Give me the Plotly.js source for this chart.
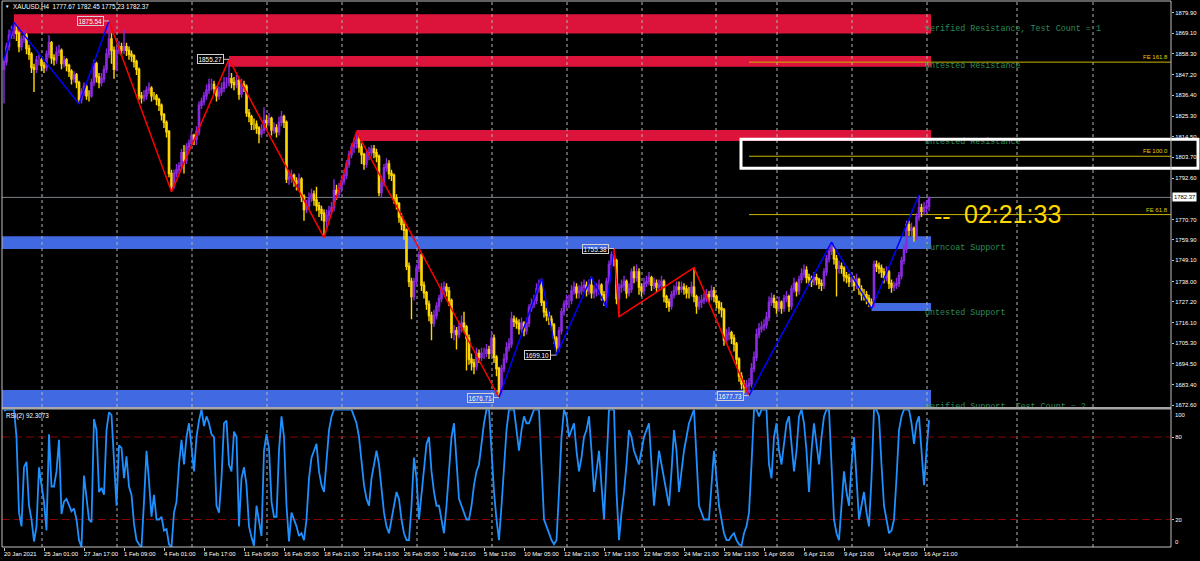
<!DOCTYPE html>
<html><head><meta charset="utf-8">
<script src="https://cdn.plot.ly/plotly-3.0.1.min.js"></script>
<style>html,body{margin:0;padding:0;background:#000;}#chart{width:1200px;height:561px;}</style>
</head><body><div id="chart"></div>
<script>
// ---------------- data ----------------
const symbolHeader = "XAUUSD,H4  1777.67 1782.45 1775.23 1782.37";
const closes = [1854,1862,1868,1870,1870,1869,1862,1866,1868,1861,
1858,1851,1850,1855,1855,1852,1851,1858,1864,1856,
1855,1859,1860,1853,1855,1852,1849,1845,1847,1843,
1834,1838,1841,1836,1836,1843,1853,1846,1843,1845,
1850,1858,1866,1860,1850,1860,1862,1860,1862,1860,
1858,1857,1854,1850,1836,1835,1836,1839,1840,1836,
1836,1834,1831,1826,1822,1817,1795,1788,1795,1797,
1799,1806,1802,1809,1811,1815,1813,1817,1831,1833,
1836,1839,1842,1842,1840,1836,1838,1840,1843,1843,
1845,1843,1842,1844,1837,1842,1841,1827,1825,1821,
1821,1819,1816,1818,1823,1822,1824,1818,1819,1817,
1822,1825,1822,1792,1793,1794,1791,1790,1792,1783,
1776,1778,1782,1784,1781,1778,1776,1774,1770,1773,
1775,1777,1786,1784,1787,1791,1794,1800,1805,1809,
1811,1813,1809,1805,1800,1805,1806,1808,1806,1804,
1785,1790,1798,1800,1795,1794,1782,1779,1772,1768,
1765,1746,1738,1730,1738,1745,1752,1736,1732,1726,
1720,1716,1720,1725,1729,1734,1735,1733,1728,1711,
1712,1710,1714,1716,1714,1708,1697,1695,1693,1700,
1698,1700,1700,1702,1700,1708,1698,1692,1680,1692,
1697,1703,1705,1718,1717,1716,1713,1716,1712,1716,
1724,1726,1728,1734,1736,1727,1722,1720,1718,1715,
1708,1703,1712,1722,1726,1728,1728,1733,1735,1732,
1733,1735,1736,1733,1736,1732,1733,1734,1736,1731,
1728,1738,1747,1752,1749,1729,1735,1736,1738,1732,
1734,1743,1740,1743,1735,1733,1737,1738,1740,1736,
1737,1735,1736,1738,1730,1727,1725,1731,1733,1735,
1734,1735,1734,1732,1732,1735,1730,1725,1727,1728,
1729,1731,1730,1733,1730,1727,1724,1723,1707,1710,
1711,1708,1705,1697,1688,1684,1682,1683,1684,1692,
1698,1710,1713,1714,1715,1719,1727,1729,1727,1724,
1727,1724,1729,1730,1725,1734,1737,1733,1739,1742,
1744,1740,1739,1738,1740,1739,1737,1736,1743,1750,
1754,1756,1750,1745,1746,1745,1741,1740,1738,1739,
1736,1739,1734,1731,1731,1729,1727,1725,1747,1746,
1745,1743,1740,1743,1737,1735,1736,1737,1741,1749,
1755,1768,1765,1766,1762,1772,1777,1775,1777,1777.67,
1782.37];
const opens = [1850,1854,1862,1868,1870,1870,1869,1862,1866,1868,
1861,1858,1851,1850,1855,1855,1852,1851,1858,1864,
1856,1855,1859,1860,1853,1855,1852,1849,1845,1847,
1843,1834,1838,1841,1836,1836,1843,1853,1846,1843,
1845,1850,1858,1866,1860,1850,1860,1862,1860,1862,
1860,1858,1857,1854,1850,1836,1835,1836,1839,1840,
1836,1836,1834,1831,1826,1822,1817,1795,1788,1795,
1797,1799,1806,1802,1809,1811,1815,1813,1817,1831,
1833,1836,1839,1842,1842,1840,1836,1838,1840,1843,
1843,1845,1843,1842,1844,1837,1842,1841,1827,1825,
1821,1821,1819,1816,1818,1823,1822,1824,1818,1819,
1817,1822,1825,1822,1792,1793,1794,1791,1790,1792,
1783,1776,1778,1782,1784,1781,1778,1776,1774,1770,
1773,1775,1777,1786,1784,1787,1791,1794,1800,1805,
1809,1811,1813,1809,1805,1800,1805,1806,1808,1806,
1804,1785,1790,1798,1800,1795,1794,1782,1779,1772,
1768,1765,1746,1738,1730,1738,1745,1752,1736,1732,
1726,1720,1716,1720,1725,1729,1734,1735,1733,1728,
1711,1712,1710,1714,1716,1714,1708,1697,1695,1693,
1700,1698,1700,1700,1702,1700,1708,1698,1692,1680,
1692,1697,1703,1705,1718,1717,1716,1713,1716,1712,
1716,1724,1726,1728,1734,1736,1727,1722,1720,1718,
1715,1708,1703,1712,1722,1726,1728,1728,1733,1735,
1732,1733,1735,1736,1733,1736,1732,1733,1734,1736,
1731,1728,1738,1747,1752,1749,1729,1735,1736,1738,
1732,1734,1743,1740,1743,1735,1733,1737,1738,1740,
1736,1737,1735,1736,1738,1730,1727,1725,1731,1733,
1735,1734,1735,1734,1732,1732,1735,1730,1725,1727,
1728,1729,1731,1730,1733,1730,1727,1724,1723,1707,
1710,1711,1708,1705,1697,1688,1684,1682,1683,1684,
1692,1698,1710,1713,1714,1715,1719,1727,1729,1727,
1724,1727,1724,1729,1730,1725,1734,1737,1733,1739,
1742,1744,1740,1739,1738,1740,1739,1737,1736,1743,
1750,1754,1756,1750,1745,1746,1745,1741,1740,1738,
1739,1736,1739,1734,1731,1731,1729,1727,1725,1747,
1746,1745,1743,1740,1743,1737,1735,1736,1737,1741,
1749,1755,1768,1765,1766,1762,1772,1777,1775,1777,
1777.67];
const highs = [1856,1864,1871,1873,1874.8,1873,1870,1868,1871,1869,
1863,1859,1853,1857,1858,1856,1854,1860,1868,1865,
1858,1862,1863,1861,1857,1856,1853,1850,1849,1848,
1844,1840,1843,1842,1839,1845,1855,1854,1848,1848,
1852,1861,1875.54,1869,1862,1862,1865,1864,1871,1864,
1862,1860,1858,1855,1851,1838,1839,1841,1843,1841,
1838,1837,1835,1832,1827,1823,1818,1797,1797,1800,
1801,1808,1810,1811,1813,1818,1816,1820,1833,1835,
1838,1842,1845,1845,1844,1841,1841,1843,1846,1846,
1855.27,1848,1846,1847,1845,1845,1844,1842,1829,1826,
1824,1823,1820,1821,1830,1826,1827,1825,1822,1821,
1825,1828,1826,1823,1796,1797,1795,1793,1795,1793,
1784,1781,1785,1787,1786,1788,1780,1778,1776,1776,
1778,1780,1792,1789,1790,1794,1797,1802,1807,1811,
1814,1817.1,1815,1811,1806,1807,1809,1810,1810,1808,
1805,1794,1800,1803,1802,1797,1795,1784,1780,1774,
1770,1766,1748,1740,1740,1747,1754,1753,1738,1733,
1728,1722,1723,1727,1731,1737,1738,1737,1735,1729,
1715,1714,1717,1720,1722,1715,1710,1700,1697,1703,
1702,1703,1703,1705,1704,1712,1710,1699,1693,1694,
1700,1706,1708,1722,1720,1719,1718,1719,1717,1719,
1726,1729,1731,1737,1739,1739.7,1728,1724,1722,1720,
1716,1709,1714,1724,1728,1731,1731,1736,1738,1737,
1736,1738,1739,1738,1739,1740.5,1736,1737,1739,1737,
1733,1740,1749,1754,1755.38,1750,1737,1739,1741,1739,
1737,1745,1746,1747,1745,1737,1740,1741,1743,1741,
1740,1739,1739,1741,1739,1731,1729,1733,1736,1738,
1738,1738,1737,1736,1735,1738,1745.3,1731,1730,1731,
1732,1734,1733,1736,1735,1731,1728,1727,1724,1713,
1714,1712,1710,1706,1698,1690,1686,1686,1687,1695,
1701,1713,1716,1717,1718,1722,1730,1732,1731,1728,
1730,1728,1731,1733,1731,1736,1740,1738,1741,1745,
1747,1746,1742,1741,1743,1742,1740,1739,1745,1752,
1757,1758.7,1757,1752,1749,1748,1746,1743,1742,1742,
1741,1742,1740,1736,1734,1733,1731,1729,1749,1749,
1748,1747,1745,1746,1744,1739,1738,1740,1743,1751,
1758,1770,1770,1769,1767,1774,1783.6,1779,1780,1781,
1782.45];
const lows = [1832,1852,1860,1866,1866,1865,1859,1860,1864,1858,
1855,1848,1838,1848,1852,1849,1848,1849,1856,1853,
1852,1853,1857,1850,1851,1849,1846,1842,1843,1840,
1831.7,1832,1836,1834,1833,1835,1841,1843,1840,1841,
1843,1848,1856,1853,1845,1849,1858,1857,1858,1857,
1855,1854,1851,1847,1834,1832,1833,1834,1837,1833,
1834,1831,1828,1823,1819,1814,1793,1785.4,1787,1793,
1795,1797,1795,1800,1807,1809,1810,1810,1815,1829,
1831,1834,1837,1839,1837,1833,1834,1836,1838,1840,
1841,1840,1839,1840,1834,1835,1838,1825,1822,1818,
1818,1816,1811,1814,1816,1819,1820,1815,1816,1814,
1815,1820,1819,1790,1789,1790,1788,1786,1787,1780,
1770,1774,1776,1780,1778,1775,1772,1770,1761.1,1766,
1770,1773,1775,1781,1782,1785,1789,1792,1798,1803,
1806,1808,1806,1800,1797,1798,1802,1804,1803,1801,
1783,1782,1788,1796,1792,1791,1779,1776,1769,1765,
1760,1744,1735,1718,1728,1736,1743,1733,1729,1723,
1717,1707,1714,1718,1722,1727,1731,1730,1725,1708,
1707,1702,1708,1711,1711,1691,1694,1691,1689,1691,
1695,1696,1697,1698,1697,1698,1695,1688,1676.71,1678,
1690,1695,1701,1703,1714,1713,1710,1711,1709,1710,
1714,1722,1724,1726,1732,1725,1719,1717,1715,1712,
1705,1699.1,1701,1710,1720,1724,1724,1726,1731,1729,
1729,1731,1732,1730,1731,1729,1729,1730,1731,1728,
1725,1724.1,1736,1745,1746,1726,1719.4,1732,1733,1729,
1730,1732,1737,1738,1731,1730,1731,1735,1736,1733,
1734,1732,1733,1734,1727,1724,1722,1723,1729,1731,
1731,1732,1731,1729,1729,1730,1727,1721,1723,1724,
1726,1727,1727,1728,1727,1724,1721,1719,1704,1705,
1707,1705,1701,1694,1685,1681,1679,1679,1677.73,1682,
1690,1696,1708,1711,1712,1713,1717,1725,1724,1721,
1722,1721,1722,1727,1722,1723,1732,1730,1731,1737,
1740,1737,1736,1735,1736,1736,1734,1733,1734,1741,
1748,1752,1747,1730,1742,1742,1738,1737,1735,1736,
1733,1734,1731,1728,1728,1726,1724.5,1723.6,1724,1743,
1742,1740,1737,1738,1734,1732,1733,1734,1735,1739,
1747,1753,1762,1762,1759,1760,1770,1772,1773,1774,
1775.23];
const rsi = [99,100,100,100,100,80,25,15,58,62,
30,20,4,15,58,45,33,12,82,44,
44,55,78,24,33,35,30,26,28,20,
5,0,52,35,20,18,93,85,40,43,
38,85,98,96,60,30,74,72,50,66,
44,38,17,5,2,0,33,70,48,22,
38,20,20,22,12,13,2,0,25,33,
60,78,60,80,90,72,55,80,92,100,
88,95,90,82,80,30,25,50,90,92,
60,55,84,80,15,50,58,45,15,7,
1,30,20,8,70,82,72,33,22,22,
70,95,80,30,4,25,20,15,8,10,
5,20,50,65,70,75,55,45,40,60,
85,95,100,100,100,100,100,100,100,100,
95,90,80,60,45,35,30,50,60,70,
60,40,25,15,10,20,30,40,35,20,
10,5,5,30,65,50,20,40,60,75,
80,55,40,30,30,20,10,30,55,80,
90,60,35,30,25,20,20,30,45,55,
60,75,90,100,100,70,40,20,5,30,
60,85,100,100,100,85,70,85,95,90,
90,95,100,100,100,60,20,15,10,5,
2,5,40,80,100,95,80,85,90,70,
55,65,80,85,95,70,40,55,70,45,
20,60,100,100,100,40,5,25,40,60,
85,80,70,65,60,70,80,85,90,60,
30,50,70,60,50,40,30,55,85,70,
40,55,70,80,90,95,100,65,30,25,
20,20,20,45,70,50,30,20,10,5,
5,8,10,5,2,1,10,15,25,60,
100,100,95,100,100,100,60,50,80,90,
70,60,75,90,95,75,55,70,95,100,
90,70,40,70,90,75,60,80,95,100,
100,60,20,10,5,30,55,40,30,60,
80,50,20,30,40,25,15,50,100,100,
95,60,30,20,10,12,20,50,85,95,
100,100,100,90,75,90,95,70,45,70,
92.31];
const rsiLabel = "RSI(2) 92.3073";
const rsiLevels = [80, 20];

const timeTickBars = [0,16,32,48,64,80,96,112,128,144,160,176,192,208,224,240,256,272,288,304,320,336,352,368];
const timeTickLabels = ["20 Jan 2021","25 Jan 01:00","27 Jan 17:00","1 Feb 09:00","4 Feb 01:00","8 Feb 17:00","11 Feb 09:00","16 Feb 05:00","18 Feb 21:00","23 Feb 13:00","26 Feb 05:00","2 Mar 21:00","5 Mar 13:00","10 Mar 05:00","12 Mar 21:00","17 Mar 13:00","22 Mar 05:00","24 Mar 21:00","29 Mar 13:00","1 Apr 05:00","6 Apr 21:00","9 Apr 13:00","14 Apr 05:00","16 Apr 21:00"];
const priceTicks = [1879.90,1869.10,1858.30,1847.20,1836.40,1825.30,1814.50,1803.70,1792.60,1770.70,1759.90,1749.10,1738.00,1727.20,1716.10,1705.30,1694.50,1683.40,1672.60];
const gridBars = [15.2,45.2,75.2,105.2,135.2,165.2,195.2,225.2,255.2,284.8,309.2,339.2,369.2,405.2,435.6];

// zigzag pivots (bar index, price)
const zzBlue1Bars = [0,4,30,42], zzBlue1Prices = [1854.9,1874.8,1831.7,1875.54];
const zzRed1Bars = [42,67,90,128,141,198], zzRed1Prices = [1875.54,1785.4,1855.27,1761.1,1817.1,1676.71];
const zzBlue2Bars = [198,215,221,235,241,244], zzBlue2Prices = [1676.71,1739.7,1699.10,1740.5,1724.1,1755.38];
const zzRed2Bars = [244,246,276,298], zzRed2Prices = [1755.38,1719.4,1745.3,1677.73];
const zzBlue3Bars = [298,331,347,366], zzBlue3Prices = [1677.73,1758.7,1723.6,1783.6];
const pivotLabelBars = [42,90,198,221,244,298];
const pivotLabelPrices = [1875.54,1855.27,1676.71,1699.10,1755.38,1677.73];

// supply / demand zones
const zoneStartBars = [4,90,141,-2,347,-2];
const zoneTops = [1879.1,1857.0,1818.0,1761.9,1726.6,1680.7];
const zoneBottoms = [1868.9,1851.4,1812.2,1755.1,1722.4,1668.0];
const zoneKinds = ["res","res","res","sup","sup","sup"];
const zoneLabels = ["Verified Resistance, Test Count = 1","Untested Resistance","Untested Resistance","Turncoat Support","Untested Support","Verified Support, Test Count = 2"];
const zoneLabelPrices = [1871.1,1851.6,1811.8,1755.9,1721.6,1671.7];

// fibonacci expansion
const feNames = ["FE 161.8","FE 100.0","FE 61.8"];
const fePrices = [1853.8,1804.1,1773.3];
const feStartBar = 298;
const fibBoxTop = 1813.1, fibBoxBottom = 1797.8;

const lastPrice = 1782.37;
const countdown = "02:21:33";

// ---------------- layout geometry ----------------
const W = 1200, H = 561;
const mL = 2, mR = 29, mT = 1, mB = 14;
const plotTop = mT, plotBottom = H - mB, plotH = plotBottom - plotTop, plotW = W - mL - mR;
const mainBottomPx = 407, rsiTopPx = 409.5;
const mainDomain = [(plotBottom - mainBottomPx) / plotH, 1];
const rsiDomain = [0, (plotBottom - rsiTopPx) / plotH];
const cal = {pA: 1879.90, yA: 12.7, pB: 1672.60, yB: 405.3};
const ppp = (cal.pA - cal.pB) / (cal.yB - cal.yA);
const priceTop = cal.pA + (cal.yA - plotTop) * ppp;
const priceBot = cal.pB - (mainBottomPx - cal.yB) * ppp;
const barPx = 2.5, bar0Px = 4;
const xMin = (mL - bar0Px) / barPx, xMax = (mL + plotW - bar0Px) / barPx;
const pxToBar = px => (px - bar0Px) / barPx;
const pxToPaperX = px => (px - mL) / plotW;
const pxToPaperY = py => (plotBottom - py) / plotH;

const N = closes.length;
const bars = closes.map((_, i) => i);
const zoneEnd = N - 0.2;

const RES = "#DC143C", SUP = "#4169E1", GOLD = "#FFD700", FEC = "#C8B400";
const FONT = "Liberation Sans, Arial, sans-serif";
const SMALL = 5.9;

const traces = [];
traces.push({
  type: "candlestick", x: bars, open: opens, high: highs, low: lows, close: closes,
  xaxis: "x", yaxis: "y", hoverinfo: "skip", whiskerwidth: 0,
  increasing: {line: {color: "#8A2BE2", width: 1.4}, fillcolor: "#8A2BE2"},
  decreasing: {line: {color: "#FFD700", width: 1.4}, fillcolor: "#FFD700"}
});
const zz = [[zzBlue1Bars, zzBlue1Prices, "#0000FF"], [zzRed1Bars, zzRed1Prices, "#FF0000"],
            [zzBlue2Bars, zzBlue2Prices, "#0000FF"], [zzRed2Bars, zzRed2Prices, "#FF0000"],
            [zzBlue3Bars, zzBlue3Prices, "#0000FF"]];
zz.forEach(([xs, ys, c]) => traces.push({type: "scatter", mode: "lines", x: xs, y: ys, xaxis: "x", yaxis: "y",
  line: {color: c, width: 1.5}, hoverinfo: "skip"}));
traces.push({type: "scatter", mode: "text", x: zoneLabels.map(() => zoneEnd - 2.4), y: zoneLabelPrices, text: zoneLabels,
  textposition: "middle right", xaxis: "x", yaxis: "y", cliponaxis: true, hoverinfo: "skip",
  textfont: {family: "Liberation Mono, Courier New, monospace", size: 8.4, color: "#2E8B57"}});
traces.push({type: "scatter", mode: "lines", x: bars, y: rsi, xaxis: "x", yaxis: "y2",
  line: {color: "#1E90FF", width: 1.8}, hoverinfo: "skip"});

const shapes = [];
zoneStartBars.forEach((s, i) => shapes.push({type: "rect", xref: "x", yref: "y", layer: "below",
  x0: s, x1: zoneEnd, y0: zoneBottoms[i], y1: zoneTops[i], line: {width: 0},
  fillcolor: zoneKinds[i] === "res" ? RES : SUP}));
gridBars.forEach(g => {
  shapes.push({type: "line", xref: "x", yref: "y", layer: "below", x0: g, x1: g, y0: priceBot, y1: priceTop,
    line: {color: "#B4B4B4", width: 1, dash: "dot"}});
  shapes.push({type: "line", xref: "x", yref: "y2", layer: "below", x0: g, x1: g, y0: 0, y1: 100,
    line: {color: "#B4B4B4", width: 1, dash: "dot"}});
});
shapes.push({type: "line", xref: "x", yref: "y", layer: "below", x0: xMin, x1: xMax, y0: lastPrice, y1: lastPrice,
  line: {color: "#7A8088", width: 1}});
fePrices.forEach(p => shapes.push({type: "line", xref: "x", yref: "y", layer: "below", x0: feStartBar, x1: xMax,
  y0: p, y1: p, line: {color: FEC, width: 1}}));
rsiLevels.forEach(v => shapes.push({type: "line", xref: "x", yref: "y2", layer: "below", x0: xMin, x1: xMax,
  y0: v, y1: v, line: {color: "#8B0000", width: 1.2, dash: "8px,4px"}}));
shapes.push({type: "rect", xref: "paper", yref: "y", layer: "above", x0: pxToPaperX(741), x1: pxToPaperX(1198),
  y0: fibBoxBottom, y1: fibBoxTop, line: {color: "#FFFFFF", width: 3}, fillcolor: "rgba(0,0,0,0)"});
shapes.push({type: "rect", xref: "paper", yref: "paper", layer: "above", x0: 0, x1: 1, y0: rsiDomain[1], y1: mainDomain[0],
  line: {width: 0}, fillcolor: "#A8A8A8"});
shapes.push({type: "rect", xref: "paper", yref: "paper", layer: "above", x0: 0, x1: 1, y0: 0, y1: 1,
  line: {color: "#C0C0C0", width: 1}, fillcolor: "rgba(0,0,0,0)"});

const ann = [];
const txt = (o) => Object.assign({showarrow: false, font: {family: FONT, size: SMALL, color: "#FFFFFF"}}, o);
ann.push(txt({xref: "paper", yref: "paper", x: pxToPaperX(3), y: pxToPaperY(6.5), xanchor: "left", yanchor: "middle", text: "▼", font: {family: FONT, size: 4.5, color: "#FFFFFF"}}));
ann.push(txt({xref: "paper", yref: "paper", x: pxToPaperX(10.5), y: pxToPaperY(6.5), xanchor: "left", yanchor: "middle", text: symbolHeader, font: {family: FONT, size: 6.3, color: "#FFFFFF"}}));
ann.push(txt({xref: "paper", yref: "y2", x: pxToPaperX(4), y: 100, xanchor: "left", yanchor: "top", text: rsiLabel, font: {family: FONT, size: 6.3, color: "#FFFFFF"}}));
timeTickBars.forEach((b, k) => ann.push(txt({xref: "x", yref: "paper", x: b, y: pxToPaperY(553.5), xanchor: "left", yanchor: "middle",
  xshift: -2, text: timeTickLabels[k]})));
pivotLabelBars.forEach((b, k) => ann.push({xref: "x", yref: "y", x: b, y: pivotLabelPrices[k], text: pivotLabelPrices[k].toFixed(2),
  showarrow: true, ax: -19, ay: 0, arrowhead: 0, arrowwidth: 1, arrowcolor: "#C8C8C8", standoff: 0,
  bordercolor: "#D0D0D0", borderwidth: 1, borderpad: 0.5, bgcolor: "rgba(0,0,0,0)",
  font: {family: FONT, size: 6.4, color: "#FFFFFF"}}));
feNames.forEach((t, k) => ann.push(txt({xref: "paper", yref: "y", x: 1, y: fePrices[k], xanchor: "right", yanchor: "bottom",
  xshift: -1, text: t, font: {family: FONT, size: 6, color: "#E0CC00"}})));
ann.push(txt({xref: "x", yref: "y", x: pxToBar(932), y: fePrices[2], xanchor: "left", yanchor: "middle", yshift: -1,
  text: "--", font: {family: FONT, size: 25, color: GOLD}}));
ann.push(txt({xref: "x", yref: "y", x: pxToBar(962), y: fePrices[2], xanchor: "left", yanchor: "middle", yshift: 1,
  text: countdown, font: {family: FONT, size: 25, color: GOLD}}));
ann.push(txt({xref: "paper", yref: "y", x: 1, y: lastPrice, xanchor: "left", yanchor: "middle", xshift: 1,
  text: lastPrice.toFixed(2), bgcolor: "#FFFFFF", borderpad: 1, font: {family: FONT, size: SMALL, color: "#000000"}}));
ann.push(txt({xref: "paper", yref: "y2", x: 1, y: 100, xanchor: "left", yanchor: "top", xshift: 2, text: "100"}));
ann.push(txt({xref: "paper", yref: "y2", x: 1, y: 0, xanchor: "left", yanchor: "bottom", xshift: 2, text: "0"}));

const layout = {
  width: W, height: H, margin: {l: mL, r: mR, t: mT, b: mB},
  paper_bgcolor: "#000000", plot_bgcolor: "#000000", showlegend: false, dragmode: false,
  xaxis: {domain: [0, 1], anchor: "y2", range: [xMin, xMax], rangeslider: {visible: false},
    tickvals: timeTickBars, showticklabels: false, ticks: "outside", ticklen: 3, tickcolor: "#C0C0C0",
    showgrid: false, zeroline: false, showline: false},
  yaxis: {domain: mainDomain, anchor: "x", side: "right", range: [priceBot, priceTop],
    tickvals: priceTicks, ticktext: priceTicks.map(v => v.toFixed(2)), ticks: "outside", ticklen: 2,
    tickcolor: "#C0C0C0", tickfont: {family: FONT, size: SMALL, color: "#FFFFFF"},
    showgrid: false, zeroline: false, showline: false},
  yaxis2: {domain: rsiDomain, anchor: "x", side: "right", range: [0, 100],
    tickvals: rsiLevels, ticktext: rsiLevels.map(String), ticks: "outside", ticklen: 2,
    tickcolor: "#C0C0C0", tickfont: {family: FONT, size: SMALL, color: "#FFFFFF"},
    showgrid: false, zeroline: false, showline: false},
  shapes: shapes, annotations: ann
};
Plotly.newPlot("chart", traces, layout, {staticPlot: true, displayModeBar: false});
</script></body></html>
